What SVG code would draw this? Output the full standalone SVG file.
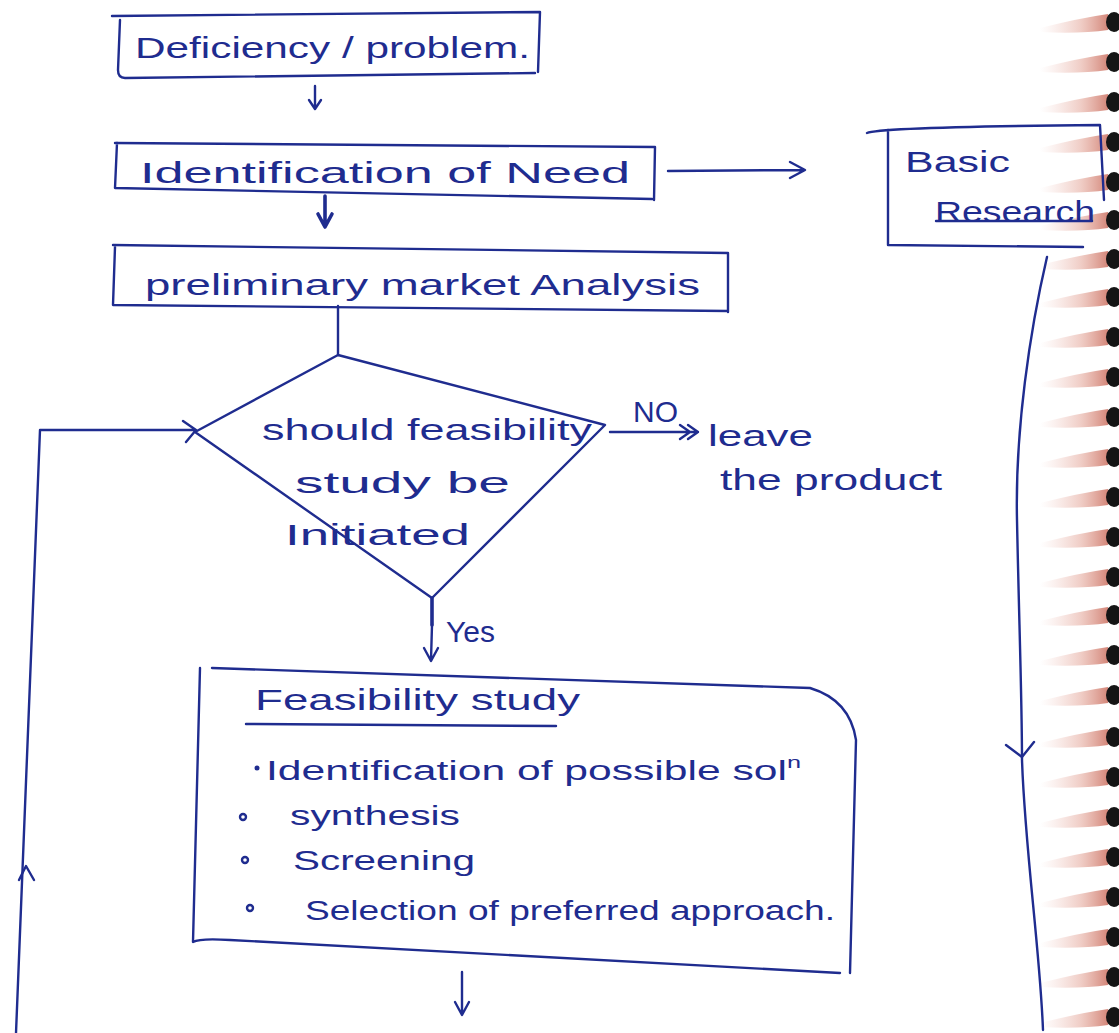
<svg xmlns="http://www.w3.org/2000/svg" width="1119" height="1033" viewBox="0 0 1119 1033">
<defs>
<style>
.ink{fill:none;stroke:#1f2c8f;stroke-width:2.4;stroke-linecap:round;stroke-linejoin:round}
.thick{stroke-width:3.6}
.t{font-family:"Liberation Sans","DejaVu Sans",sans-serif;fill:#1f2c8f;font-size:30px}
.s{font-size:27px}
.dot{fill:#1f2c8f}
</style>
<linearGradient id="shadow" x1="0" y1="0" x2="1" y2="0">
<stop offset="0" stop-color="#eab0a6" stop-opacity="0"/>
<stop offset="0.6" stop-color="#dd9080" stop-opacity="0.45"/>
<stop offset="1" stop-color="#c86858" stop-opacity="0.8"/>
</linearGradient>
<g id="ring">
<path d="M1040,8 Q1080,-2 1108,-6 L1108,10 Q1080,14 1040,12 Z" fill="url(#shadow)"/>
<ellipse cx="1114" cy="2" rx="8" ry="10" fill="#151515"/>
</g>
</defs>
<rect width="1119" height="1033" fill="#ffffff"/>
<g id="binding">
<use href="#ring" y="20"/><use href="#ring" y="60"/><use href="#ring" y="100"/><use href="#ring" y="140"/>
<use href="#ring" y="180"/><use href="#ring" y="218"/><use href="#ring" y="257"/><use href="#ring" y="295"/>
<use href="#ring" y="335"/><use href="#ring" y="375"/><use href="#ring" y="415"/><use href="#ring" y="455"/>
<use href="#ring" y="495"/><use href="#ring" y="535"/><use href="#ring" y="575"/><use href="#ring" y="613"/>
<use href="#ring" y="653"/><use href="#ring" y="693"/><use href="#ring" y="735"/><use href="#ring" y="775"/>
<use href="#ring" y="815"/><use href="#ring" y="855"/><use href="#ring" y="895"/><use href="#ring" y="935"/>
<use href="#ring" y="975"/><use href="#ring" y="1015"/>
</g>
<g id="connectors">
<path class="ink" d="M315,86 L315,108 M309,100 L315,109 L321,100"/>
<path class="ink" d="M668,171 L804,170 M790,162 L805,170 L790,178"/>
<path class="ink thick" d="M325,196 L325,226 M318,214 L325,227 L332,214"/>
<path class="ink" d="M338,306 L338,355"/>
<path class="ink" d="M610,432 L698,432 M680,425 L690,432 L680,439 M688,425 L698,432 L688,439"/>
<path class="ink thick" d="M432,598 L432,625"/>
<path class="ink" d="M432,625 L431,660 M424,648 L431,661 L438,648"/>
<path class="ink" d="M16,1033 L40,430 L195,430 M183,421 L196,430 L186,442"/>
<path class="ink" d="M19,880 L26,866 L34,880"/>
<path class="ink" d="M1047,257 C1030,330 1015,430 1017,520 C1019,620 1022,700 1022,760 C1025,850 1040,950 1043,1030"/>
<path class="ink" d="M1006,745 L1022,757 L1034,742"/>
<path class="ink" d="M462,972 L462,1014 M455,1002 L462,1015 L469,1002"/>
</g>
<g id="node-deficiency">
<path class="ink" d="M112,16 L540,12 L538,72 M120,20 L118,70 Q118,78 125,78 L535,73"/>
<text class="t" x="135" y="58" textLength="395" lengthAdjust="spacingAndGlyphs">Deficiency / problem.</text>
</g>
<g id="node-need">
<path class="ink" d="M115,143 L655,147 L654,200 M117,143 L115,188 L652,199"/>
<text class="t" x="140" y="183" textLength="490" lengthAdjust="spacingAndGlyphs">Identification of Need</text>
</g>
<g id="node-research">
<path class="ink" d="M867,133 Q880,127 1100,125 L1104,200 M888,130 L888,245 L1083,247"/>
<text class="t" x="905" y="172" textLength="105" lengthAdjust="spacingAndGlyphs">Basic</text>
<text class="t" x="935" y="222" textLength="160" lengthAdjust="spacingAndGlyphs">Research</text>
<path class="ink" d="M936,221 L1092,221" stroke-width="1.5"/>
</g>
<g id="node-market">
<path class="ink" d="M113,245 L728,253 L728,312 M115,247 L113,305 L728,311"/>
<text class="t" x="145" y="295" textLength="555" lengthAdjust="spacingAndGlyphs">preliminary market Analysis</text>
</g>
<g id="node-decision">
<path class="ink" d="M338,355 L605,425 L432,598 L195,432 Z"/>
<text class="t" x="262" y="440" textLength="330" lengthAdjust="spacingAndGlyphs">should feasibility</text>
<text class="t" x="295" y="493" textLength="215" lengthAdjust="spacingAndGlyphs">study be</text>
<text class="t" x="285" y="545" textLength="185" lengthAdjust="spacingAndGlyphs">Initiated</text>
</g>
<g id="labels">
<text class="t" x="633" y="422" font-size="20">NO</text>
<text class="t" x="708" y="446" textLength="105" lengthAdjust="spacingAndGlyphs">leave</text>
<text class="t" x="720" y="490" textLength="222" lengthAdjust="spacingAndGlyphs">the product</text>
<text class="t" x="446" y="642" font-size="26">Yes</text>
</g>
<g id="node-feasibility">
<path class="ink" d="M212,668 L810,688 Q850,700 856,740 L850,973 M200,668 L193,942 Q200,938 230,940 L840,973"/>
<text class="t" x="255" y="710" textLength="325" lengthAdjust="spacingAndGlyphs">Feasibility study</text>
<path class="ink" d="M246,724 L556,726" stroke-width="2"/>
<circle class="dot" cx="257" cy="768" r="2.5"/>
<text class="t s" x="266" y="780" textLength="535" lengthAdjust="spacingAndGlyphs">Identification of possible sol<tspan dy="-12" font-size="16">n</tspan></text>
<circle class="ink" cx="243" cy="817" r="3" stroke-width="2"/>
<text class="t s" x="290" y="825" textLength="170" lengthAdjust="spacingAndGlyphs">synthesis</text>
<circle class="ink" cx="245" cy="860" r="3" stroke-width="2"/>
<text class="t s" x="293" y="870" textLength="182" lengthAdjust="spacingAndGlyphs">Screening</text>
<circle class="ink" cx="250" cy="908" r="3" stroke-width="2"/>
<text class="t s" x="305" y="920" textLength="530" lengthAdjust="spacingAndGlyphs">Selection of preferred approach.</text>
</g>
</svg>
